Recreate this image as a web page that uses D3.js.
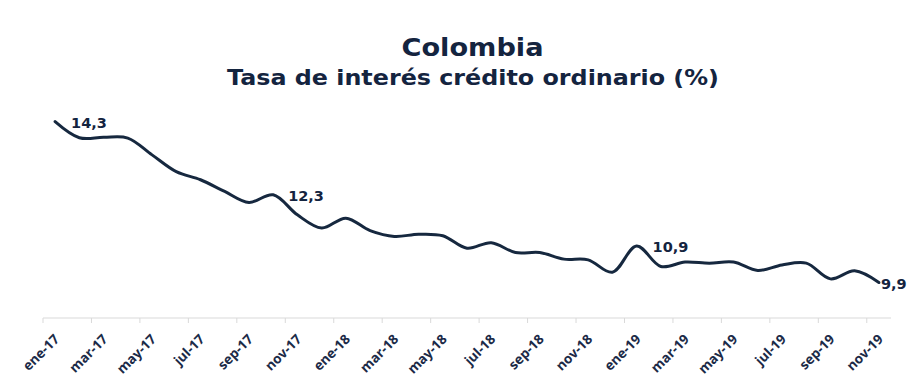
<!DOCTYPE html>
<html>
<head>
<meta charset="utf-8">
<script src="https://cdn.jsdelivr.net/npm/d3@7"></script>
<style>
  body { margin: 0; background: #fff; }
  .title { font-family: "DejaVu Sans"; font-weight: bold; fill: #14243f; }
  .tick-label { font-family: "Open Sans"; font-weight: bold; font-size: 13.5px; fill: #1b2a47; }
  .data-label { font-family: "DejaVu Sans"; font-weight: bold; font-size: 14.5px; fill: #14243f; }
</style>
</head>
<body>
<div id="chart"></div>
<script>
// data
const months = ['ene-17','feb-17','mar-17','abr-17','may-17','jun-17','jul-17','ago-17','sep-17','oct-17','nov-17','dic-17',
  'ene-18','feb-18','mar-18','abr-18','may-18','jun-18','jul-18','ago-18','sep-18','oct-18','nov-18','dic-18',
  'ene-19','feb-19','mar-19','abr-19','may-19','jun-19','jul-19','ago-19','sep-19','oct-19','nov-19'];
const rates = [14.3, 13.86, 13.87, 13.85, 13.39, 12.93, 12.71, 12.39, 12.09, 12.3, 11.75, 11.39,
  11.66, 11.32, 11.16, 11.22, 11.18, 10.84, 10.99, 10.72, 10.72, 10.54, 10.52, 10.18,
  10.9, 10.34, 10.46, 10.43, 10.46, 10.23, 10.38, 10.43, 10.0, 10.22, 9.9];
const labelled = ['ene-17', 'oct-17', 'ene-19', 'nov-19'];
const tickMonths = months.filter((d, i) => i % 2 === 0);

// chart params
const width = 913, height = 381;
const margin = {top: 96, right: 22, bottom: 63, left: 43};
const lineColor = '#16283f';
const labelOffset = {'ene-17': 16, 'oct-17': 15, 'ene-19': 16, 'nov-19': 2};

const svg = d3.select('#chart').append('svg')
    .attr('width', width)
    .attr('height', height);

// titles
svg.append('text')
  .attr('class', 'title')
  .attr('x', 472.5).attr('y', 56)
  .attr('text-anchor', 'middle')
  .style('font-size', '24px')
  .attr('textLength', 142).attr('lengthAdjust', 'spacingAndGlyphs')
  .text('Colombia');

svg.append('text')
  .attr('class', 'title')
  .attr('x', 473).attr('y', 85)
  .attr('text-anchor', 'middle')
  .style('font-size', '21px')
  .attr('textLength', 492).attr('lengthAdjust', 'spacingAndGlyphs')
  .text('Tasa de interés crédito ordinario (%)');

// scales
const xScale = d3.scaleBand()
  .domain(months)
  .range([margin.left, width - margin.right])
  .padding(0);

const yScale = d3.scaleLinear()
  .domain([8.93, 15])
  .range([height - margin.bottom, margin.top]);

const xc = d => xScale(d) + xScale.bandwidth() / 2;

// x axis line + ticks at category boundaries
const axisY = height - margin.bottom;
svg.append('line')
  .attr('x1', margin.left).attr('x2', width - margin.right)
  .attr('y1', axisY).attr('y2', axisY)
  .attr('stroke', '#d9d9d9').attr('stroke-width', 1);

svg.append('g')
  .selectAll('line')
  .data(tickMonths)
  .join('line')
    .attr('x1', d => xScale(d)).attr('x2', d => xScale(d))
    .attr('y1', axisY).attr('y2', axisY + 5)
    .attr('stroke', '#d9d9d9');

// tick labels rotated
svg.append('g')
  .selectAll('text')
  .data(tickMonths)
  .join('text')
    .attr('class', 'tick-label')
    .attr('text-anchor', 'end')
    .attr('transform', d => `translate(${xc(d) + 5},${axisY + 22}) rotate(-45)`)
    .text(d => d);

// line
const line = d3.line()
  .x((d, i) => xc(months[i]))
  .y(d => yScale(d))
  .curve(d3.curveCatmullRom.alpha(0.5));

svg.append('path')
  .datum(rates)
  .attr('fill', 'none')
  .attr('stroke', lineColor)
  .attr('stroke-width', 3)
  .attr('stroke-linecap', 'round')
  .attr('d', line);

// data labels
svg.append('g')
  .selectAll('text')
  .data(labelled)
  .join('text')
    .attr('class', 'data-label')
    .attr('x', d => xc(d) + labelOffset[d])
    .attr('y', d => yScale(rates[months.indexOf(d)]) + 6.5)
    .text(d => rates[months.indexOf(d)].toFixed(1).replace('.', ','));
</script>
</body>
</html>
